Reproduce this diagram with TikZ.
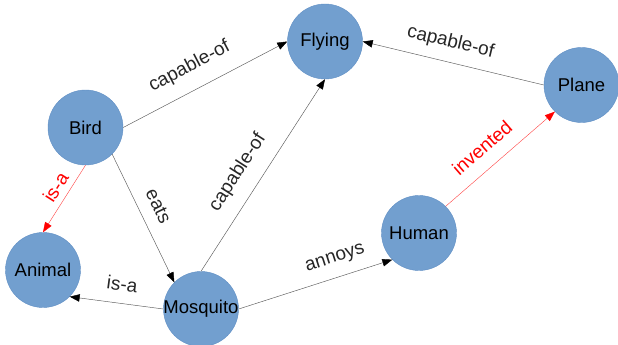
\documentclass[tikz,border=0pt]{standalone}
\usepackage{fontspec}
\setmainfont{Liberation Sans}
\usetikzlibrary{arrows.meta}
\definecolor{nodefill}{HTML}{729FCF}
\definecolor{nodeline}{HTML}{5F8EC4}
\definecolor{edgegray}{HTML}{5A5A5A}
\begin{document}
\begin{tikzpicture}[x=1pt,y=-1pt,
  concept/.style={circle, fill=nodefill, draw=nodeline, line width=0.4pt,
    minimum size=75pt, inner sep=0pt, font=\fontsize{18.5}{20}\selectfont},
  edge/.style={draw=edgegray, line width=0.45pt,
    -{Triangle[length=10pt,width=7.5pt,color=black]}},
  rededge/.style={draw=red!75, line width=0.4pt,
    -{Triangle[length=10pt,width=7.5pt,color=red]}},
  lab/.style={sloped, inner sep=0pt, text height=14pt, text depth=4pt,
    font=\fontsize{19}{21}\selectfont, text=black!85},
  redlab/.style={lab, text=red}]
\useasboundingbox (0,0) rectangle (618,345);
\node[concept] (fly) at (325,41.5) {\makebox[0pt]{Flying}};
\node[concept] (plane) at (581.5,85) {\makebox[0pt]{Plane}};
\node[concept] (bird) at (85.5,127.5) {\makebox[0pt]{Bird}};
\node[concept] (animal) at (43,270) {\makebox[0pt]{Animal}};
\node[concept] (mosq) at (201,309) {\makebox[0pt]{Mosquito}};
\node[concept] (human) at (419,233) {\makebox[0pt]{Human}};

\draw[edge] (bird.east) -- node[lab, pos=0.47, above=14pt] {capable-of} (fly.west);
\draw[edge] (plane.west) -- node[lab, pos=0.54, above=10.5pt] {capable-of} (fly.east);
\draw[edge] (mosq.north) -- node[lab, pos=0.45, above=13.5pt] {capable-of} (fly.south);
\draw[rededge] (bird.south) -- node[redlab, pos=0.435, above=2.5pt] {is-a} (animal.north);
\draw[edge] (bird.south east) -- node[lab, pos=0.47, above=8.7pt] {eats} (mosq.north west);
\draw[edge] (mosq.west) -- node[lab, pos=0.466, above=8.5pt] {is-a} (animal.south east);
\draw[edge] (mosq.east) -- node[lab, pos=0.665, above=10.6pt] {annoys} (human.south west);
\draw[rededge] (human.north east) -- node[redlab, pos=0.455, above=9.4pt] {invented} (plane.south west);
\end{tikzpicture}
\end{document}
